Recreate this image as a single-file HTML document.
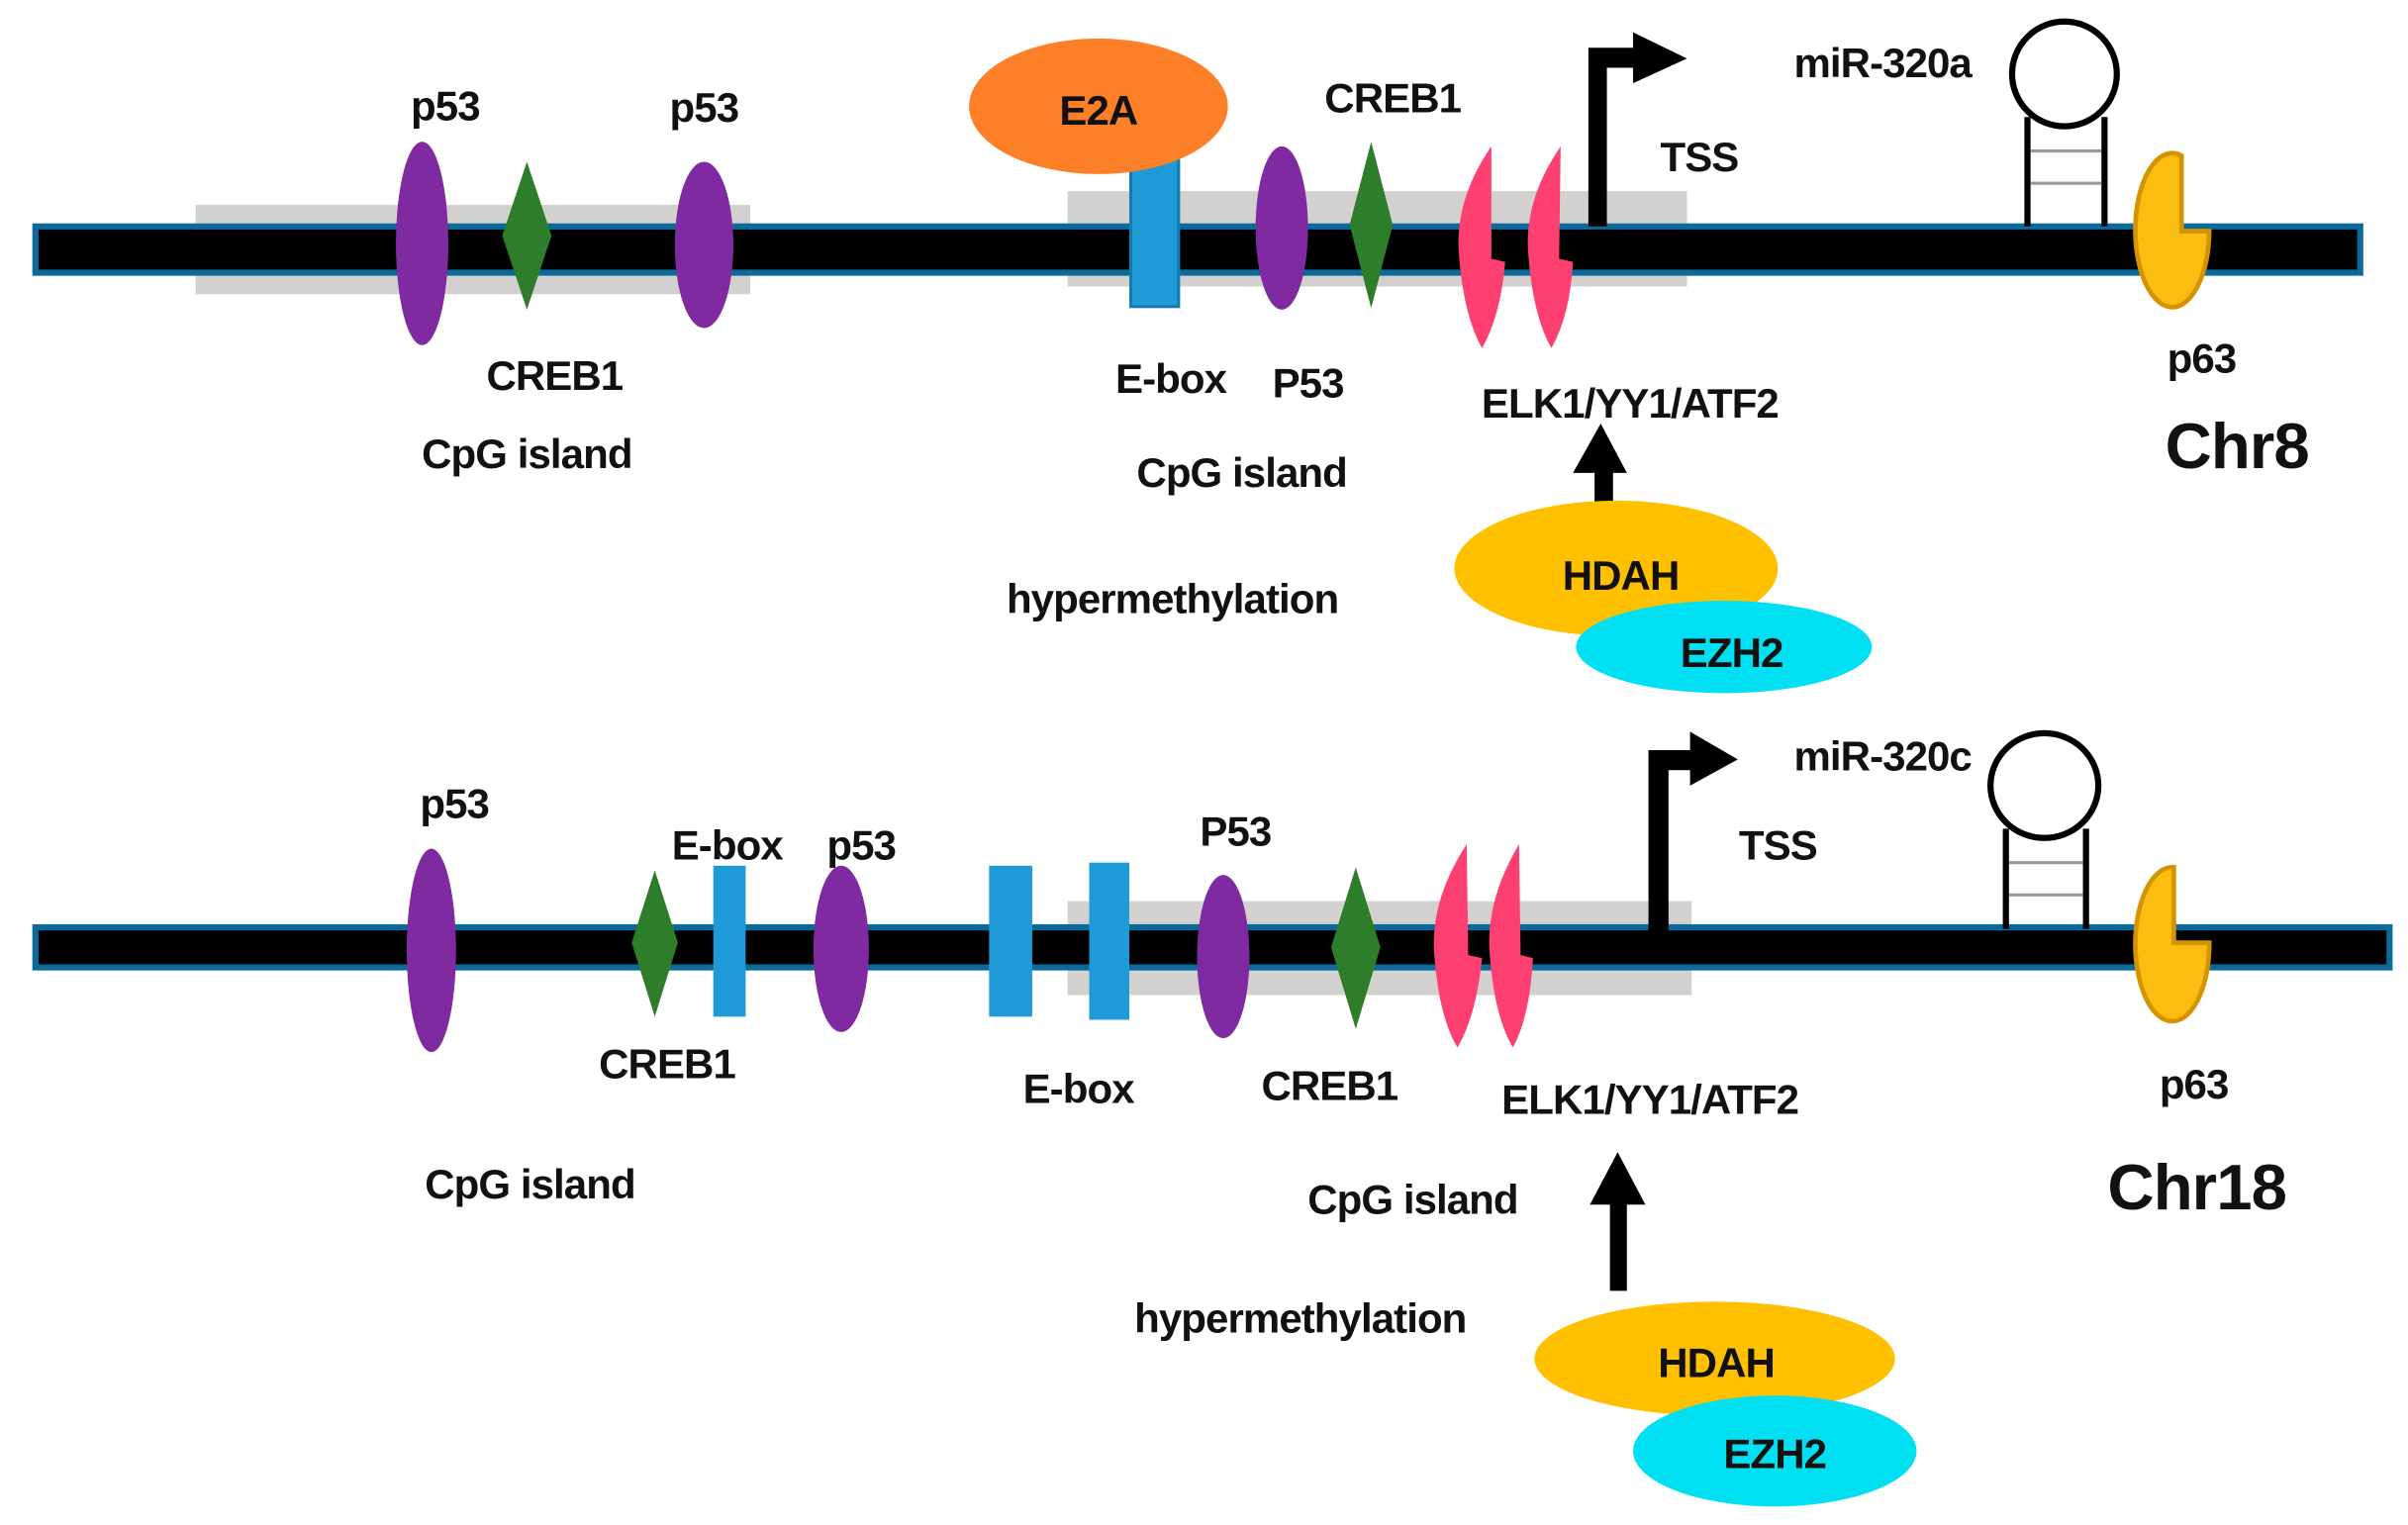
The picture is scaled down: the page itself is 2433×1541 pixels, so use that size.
<!DOCTYPE html>
<html><head><meta charset="utf-8"><style>
html,body{margin:0;padding:0;background:#fff}
svg{display:block}
text{font-family:"Liberation Sans",sans-serif;font-weight:bold;font-size:27px;letter-spacing:-0.6px;fill:#111;text-anchor:middle}
</style></head><body>
<svg width="2433" height="1541" viewBox="0 0 1563 990" preserveAspectRatio="none" xmlns="http://www.w3.org/2000/svg">
<!-- TOP -->
<rect x="127" y="133" width="360" height="58" fill="#d3d1d0"/>
<rect x="693" y="124" width="402" height="62" fill="#d3d1d0"/>
<rect x="23" y="147" width="1509" height="30" fill="#000" stroke="#0a6a9a" stroke-width="4"/>
<ellipse cx="274" cy="158" rx="17" ry="66" fill="#7f2aa0"/>
<polygon points="342,105 358,153 342,201 326,153" fill="#2e7d2a"/>
<ellipse cx="457" cy="159" rx="19" ry="54" fill="#7f2aa0"/>
<rect x="734" y="100" width="31" height="99" fill="#1e9bd7" stroke="#137bb0" stroke-width="2"/>
<ellipse cx="713" cy="69" rx="84" ry="44" fill="#fd7f27"/>
<ellipse cx="832" cy="148" rx="17" ry="53" fill="#7f2aa0"/>
<polygon points="890,92 904,146 890,200 876,146" fill="#2e7d2a"/>
<path d="M968,95 Q944,130 947,165 Q950,205 962,226 Q974,205 977,170 L968,168 Z" fill="#fe4070"/>
<path d="M1013,95 Q989,130 992,165 Q995,205 1007,226 Q1019,205 1021,170 L1012,168 Z" fill="#fe4070"/>
<path d="M1031,147 L1031,31 L1060,31 L1060,21 L1095,38 L1060,54 L1060,44 L1043,44 L1043,147 Z" fill="#000"/>
<ellipse cx="1340" cy="48" rx="34" ry="34" fill="#fff" stroke="#000" stroke-width="4"/>
<line x1="1316" y1="76" x2="1316" y2="147" stroke="#000" stroke-width="4"/>
<line x1="1366" y1="76" x2="1366" y2="147" stroke="#000" stroke-width="4"/>
<line x1="1318" y1="98" x2="1364" y2="98" stroke="#999" stroke-width="2"/>
<line x1="1318" y1="119" x2="1364" y2="119" stroke="#999" stroke-width="2"/>
<path d="M1416,101 L1416,150 L1434,150 A24,50 0 1 1 1416,101 Z" fill="#fbbd0f" stroke="#d49400" stroke-width="3"/>
<path d="M1035,330 L1035,307 L1021,307 L1039,275 L1056,307 L1047,307 L1047,330 Z" fill="#000"/>
<ellipse cx="1049" cy="369" rx="105" ry="44" fill="#ffc000"/>
<ellipse cx="1119" cy="420" rx="96" ry="30" fill="#00e0f2"/>
<text x="289" y="78">p53</text>
<text x="457" y="79">p53</text>
<text x="713" y="81">E2A</text>
<text x="904" y="73">CREB1</text>
<text x="1103" y="111">TSS</text>
<text x="1222" y="50">miR-320a</text>
<text x="360" y="253">CREB1</text>
<text x="342" y="304">CpG island</text>
<text x="760" y="255">E-box</text>
<text x="849" y="258">P53</text>
<text x="1058" y="271">ELK1/YY1/ATF2</text>
<text x="806" y="316">CpG island</text>
<text x="761" y="398">hypermethylation</text>
<text x="1429" y="242">p63</text>
<text x="1452" y="304" style="font-size:42px">Chr8</text>
<text x="1052" y="383">HDAH</text>
<text x="1124" y="433">EZH2</text>
<!-- BOTTOM -->
<rect x="693" y="585" width="405" height="61" fill="#d3d1d0"/>
<rect x="23" y="602" width="1528" height="26" fill="#000" stroke="#0a6a9a" stroke-width="4"/>
<ellipse cx="280" cy="617" rx="16" ry="66" fill="#7f2aa0"/>
<polygon points="425,565 440,612 425,660 410,612" fill="#2e7d2a"/>
<rect x="463" y="562" width="21" height="98" fill="#1e9bd7"/>
<ellipse cx="546" cy="616" rx="18" ry="54" fill="#7f2aa0"/>
<rect x="642" y="562" width="28" height="98" fill="#1e9bd7"/>
<rect x="707" y="560" width="26" height="102" fill="#1e9bd7"/>
<ellipse cx="794" cy="621" rx="17" ry="53" fill="#7f2aa0"/>
<polygon points="880,563 896,615 880,668 864,615" fill="#2e7d2a"/>
<path d="M952,548 Q928,585 931,620 Q934,660 946,680 Q958,660 962,622 L953,620 Z" fill="#fe4070"/>
<path d="M986,548 Q964,585 967,620 Q970,660 982,680 Q993,660 995,622 L987,620 Z" fill="#fe4070"/>
<path d="M1070,605 L1070,487 L1097,487 L1097,475 L1128,493 L1097,510 L1097,500 L1083,500 L1083,605 Z" fill="#000"/>
<ellipse cx="1327" cy="510" rx="35" ry="34" fill="#fff" stroke="#000" stroke-width="4"/>
<line x1="1302" y1="538" x2="1302" y2="603" stroke="#000" stroke-width="4"/>
<line x1="1354" y1="538" x2="1354" y2="603" stroke="#000" stroke-width="4"/>
<line x1="1304" y1="560" x2="1352" y2="560" stroke="#999" stroke-width="2"/>
<line x1="1304" y1="581" x2="1352" y2="581" stroke="#999" stroke-width="2"/>
<path d="M1411,563 L1411,612 L1434,612 A24,50 0 1 1 1411,563 Z" fill="#fbbd0f" stroke="#d49400" stroke-width="3"/>
<path d="M1045,838 L1045,782 L1032,782 L1050,748 L1068,782 L1056,782 L1056,838 Z" fill="#000"/>
<ellipse cx="1113" cy="882" rx="117" ry="37" fill="#ffc000"/>
<ellipse cx="1152" cy="942" rx="92" ry="36" fill="#00e0f2"/>
<text x="295" y="531">p53</text>
<text x="472" y="558">E-box</text>
<text x="559" y="558">p53</text>
<text x="802" y="549">P53</text>
<text x="1154" y="558">TSS</text>
<text x="1222" y="500">miR-320c</text>
<text x="433" y="700">CREB1</text>
<text x="700" y="716">E-box</text>
<text x="863" y="714">CREB1</text>
<text x="1071" y="723">ELK1/YY1/ATF2</text>
<text x="344" y="778">CpG island</text>
<text x="917" y="788">CpG island</text>
<text x="844" y="865">hypermethylation</text>
<text x="1424" y="713">p63</text>
<text x="1426" y="785" style="font-size:42px">Chr18</text>
<text x="1114" y="894">HDAH</text>
<text x="1152" y="953">EZH2</text>
</svg>
</body></html>
